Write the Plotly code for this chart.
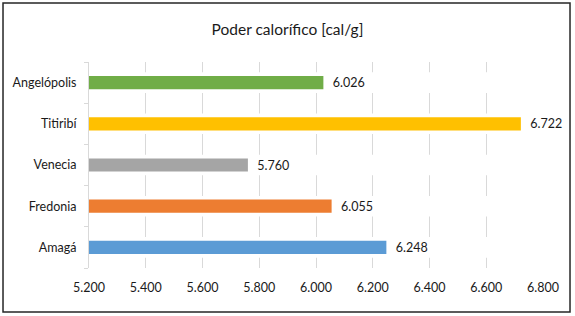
import plotly.graph_objects as go

categories = ["Amagá", "Fredonia", "Venecia", "Titiribí", "Angelópolis"]
values = [6248, 6055, 5760, 6722, 6026]
colors = ["#5B9BD5", "#ED7D31", "#A5A5A5", "#FFC000", "#70AD47"]
x_min, x_max, x_step = 5200, 6800, 200
title = "Poder calorífico [cal/g]"

font = "Lato, 'Open Sans', sans-serif"
fig = go.Figure()
# white bands that hide gridlines behind each row (as in the reference)
fig.add_trace(go.Bar(
    y=categories, x=[x_max - x_min] * len(categories), base=x_min,
    orientation="h", marker=dict(color="white", line=dict(width=0)),
    width=0.5, hoverinfo="skip", showlegend=False))
fig.add_trace(go.Bar(
    y=categories, x=[v - x_min for v in values], base=x_min,
    orientation="h", marker=dict(color=colors, line=dict(width=0)),
    width=0.32, text=values, texttemplate="  %{text:,d}",
    textposition="outside", cliponaxis=False, constraintext="none",
    textfont=dict(size=12.5, color="#1a1a1a", family=font),
    showlegend=False))

fig.update_layout(
    width=575, height=316, barmode="overlay", separators=",.",
    paper_bgcolor="white", plot_bgcolor="white",
    margin=dict(l=89, r=32, t=62, b=48, autoexpand=False),
    title=dict(text=title, x=0.5, xanchor="center", y=0.905, yanchor="middle",
               font=dict(size=15.5, color="#1a1a1a", family=font)),
    font=dict(family=font, size=12.5, color="#1a1a1a"),
    xaxis=dict(range=[x_min, x_max], dtick=x_step, tick0=x_min,
               tickformat=",d", showgrid=True, gridcolor="#D9D9D9",
               gridwidth=1, zeroline=False, showline=False, ticks="",
               automargin=False, ticklabelstandoff=10,
               tickfont=dict(size=12.5, color="#1a1a1a")),
    yaxis=dict(showgrid=False, showline=True, linecolor="#D9D9D9",
               ticks="outside", ticklen=4, tickcolor="#D9D9D9",
               tickson="boundaries", ticklabelstandoff=9, automargin=False,
               tickfont=dict(size=12.5, color="#1a1a1a")),
    shapes=[dict(type="rect", xref="paper", yref="paper",
                 x0=-0.1894, x1=1.0595, y0=-0.214, y1=1.286,
                 line=dict(color="#262626", width=1.5), layer="above")],
)
fig.write_html("out.html", config={"displayModeBar": False},
               post_script="document.body.style.margin='0px';document.body.style.padding='0px';")
